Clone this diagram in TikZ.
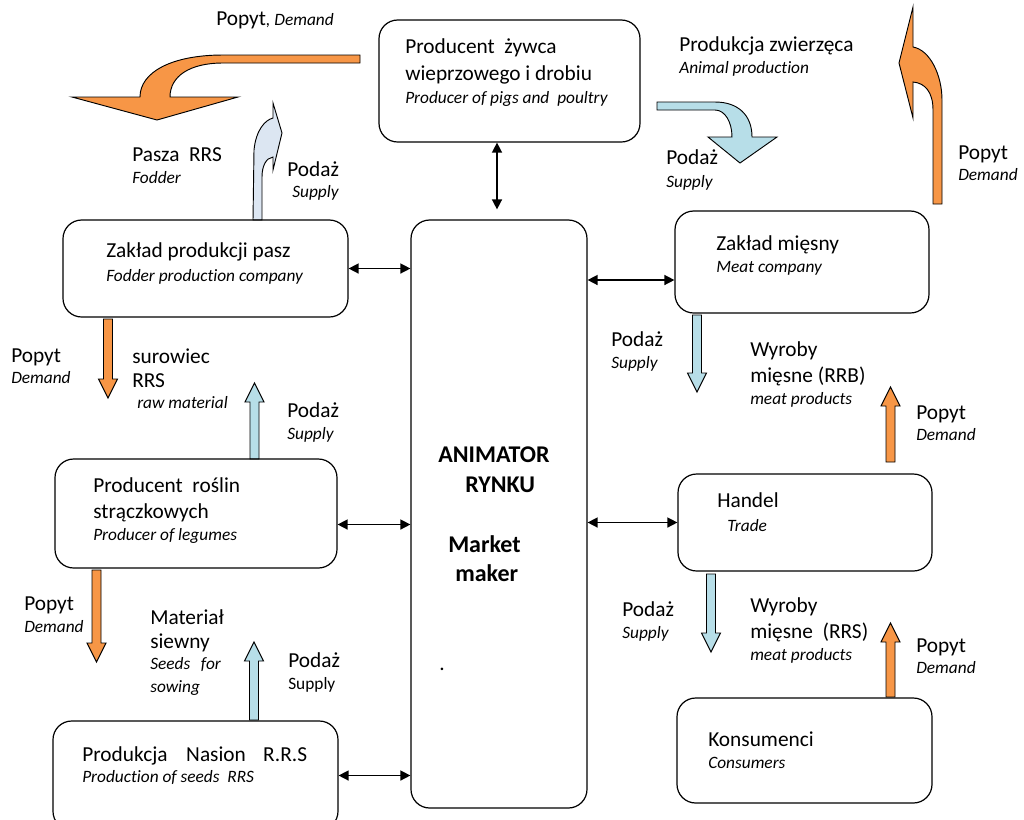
\documentclass[tikz,border=0pt]{standalone}
\usepackage{fontspec}
\setmainfont{Carlito}[Ligatures=NoCommon]
\usetikzlibrary{arrows.meta,fit,calc}
\definecolor{org}{HTML}{F79646}
\definecolor{lblue}{HTML}{B7DEE8}
\definecolor{pale}{HTML}{DCE6F2}
\newcommand\myVArrow[4]{% x, ytail, ytip, colour
  \pgfmathsetmacro\hdir{(#3>#2)?-1:1}
  \draw[blk,fill=#4] (#1-4.5,#2) -- (#1-4.5,#3+\hdir*19) -- (#1-9.5,#3+\hdir*19) -- (#1,#3)
    -- (#1+9.5,#3+\hdir*19) -- (#1+4.5,#3+\hdir*19) -- (#1+4.5,#2) -- cycle;}
\begin{document}
\begin{tikzpicture}[x=0.75pt,y=-0.75pt,
  box/.style={draw,line width=0.9pt,rounded corners=14pt,inner sep=0pt},
  blk/.style={draw=black,line width=0.7pt,line join=miter},
  dbl/.style={{Triangle[length=7.5pt,width=7.5pt]}-{Triangle[length=7.5pt,width=7.5pt]},line width=1.1pt},
  rg/.style={anchor=base west,inner sep=0pt,font=\fontsize{16}{19}\selectfont},
  it/.style={anchor=base west,inner sep=0pt,font=\fontsize{13}{16}\selectfont\itshape},
  bfx/.style={anchor=base west,inner sep=0pt,font=\fontsize{18}{21}\selectfont\bfseries}]
\useasboundingbox (0,0) rectangle (1024,819);
\clip (0,0) rectangle (1024,819);
\fill[white] (0,0) rectangle (1024,819);

% curved block arrows
\draw[blk,fill=org] (360,55) -- (223,55) .. controls (172,55) and (140,72) .. (140,97) -- (72,97) -- (157,120) -- (238,97) -- (170,97) .. controls (170,76) and (190,63) .. (223,63) -- (360,63) -- cycle;
\draw[blk,fill=pale] (253,220) -- (254,150) .. controls (256,130) and (265,120) .. (273,118) -- (273,103) -- (282,133) -- (273,170) -- (273,157) .. controls (266,158) and (262,166) .. (262,177) -- (262,220) -- cycle;
\draw[blk,fill=org] (933,204) -- (933,110) .. controls (933,92) and (925,83) .. (913,82) -- (913,118) -- (899,63) -- (913,7) -- (913,47) .. controls (930,50) and (942,75) .. (942,100) -- (942,204) -- cycle;
\draw[blk,fill=lblue] (657,102) -- (715,102) .. controls (738,102) and (752,115) .. (752,137) -- (777,137) -- (740,163) -- (708,137) -- (732,137) .. controls (732,122) and (725,110) .. (715,110) -- (657,110) -- cycle;

% straight block arrows
\myVArrow{108}{319}{398}{org}
\myVArrow{254.5}{459}{383}{lblue}
\myVArrow{96.5}{570}{662}{org}
\myVArrow{254}{720}{642}{lblue}
\myVArrow{697}{315}{392}{lblue}
\myVArrow{890.5}{462}{387}{org}
\myVArrow{711}{574}{652}{lblue}
\myVArrow{890.5}{697}{623}{org}

% boxes
\node[box,fit={(379,20) (640,142)}] (top) {};
\node[box,fit={(63,220) (348,317)}] (pasz) {};
\node[box,fit={(411,220) (587,808)}] (anim) {};
\node[box,fit={(675,211) (929,313)}] (meat) {};
\node[box,fit={(55,459) (337,568)}] (legume) {};
\node[box,fit={(678,474) (932,571)}] (trade) {};
\node[box,fit={(53,721) (338,830)}] (seeds) {};
\node[box,fit={(677,698) (932,803)}] (cons) {};

% double arrows
\draw[dbl,shorten >=7.5pt] (top.south -| 497,0) -- (anim.north -| 497,0);
\draw[dbl] (pasz.east) -- (pasz.east -| anim.west);
\coordinate (m1) at ($(meat.west)+(0,18)$);
\draw[dbl] (m1) -- (m1 -| anim.east);
\coordinate (l1) at ($(legume.east)+(0,11)$);
\draw[dbl] (l1) -- (l1 -| anim.west);
\draw[dbl] (trade.west) -- (trade.west -| anim.east);
\draw[dbl] (seeds.east) -- (seeds.east -| anim.west);

% texts
\node[rg] (t1) at (216,25) {Popyt{\fontsize{13}{16}\selectfont\itshape, Demand}};
\node[rg] (t2) at (405,53) {Producent\ \ żywca};
\node[rg] (t3) at (405,80) {wieprzowego i drobiu};
\node[it] (t4) at (405,103) {Producer of pigs and\ \ poultry};
\node[rg] (t5) at (679,51) {Produkcja zwierzęca};
\node[it] (t6) at (679,73) {Animal production};
\node[rg] (t7) at (666,164) {Podaż};
\node[it] (t8) at (666,187) {Supply};
\node[rg] (t9) at (958,159) {Popyt};
\node[it] (t10) at (958,180) {Demand};
\node[rg] (t11) at (132,161) {Pasza\ \ RRS};
\node[it] (t12) at (132,183) {Fodder};
\node[rg] (t13) at (287,176) {Podaż};
\node[it] (t14) at (292,197) {Supply};
\node[rg] (t15) at (106,257) {Zakład produkcji pasz};
\node[it] (t16) at (106,281) {Fodder production company};
\node[rg] (t17) at (716,250) {Zakład mięsny};
\node[it] (t18) at (716,272) {Meat company};
\node[rg] (t19) at (11,362) {Popyt};
\node[it] (t20) at (11,383) {Demand};
\node[rg] (t21) at (132,363) {surowiec};
\node[rg] (t22) at (132,387) {RRS};
\node[it] (t23) at (137,408) {raw material};
\node[rg] (t24) at (287,417) {Podaż};
\node[it] (t25) at (287,439) {Supply};
\node[rg] (t26) at (611,346) {Podaż};
\node[it] (t27) at (611,368) {Supply};
\node[rg] (t28) at (750,356) {Wyroby};
\node[rg] (t29) at (750,382) {mięsne (RRB)};
\node[it] (t30) at (750,404) {meat products};
\node[rg] (t31) at (916,419) {Popyt};
\node[it] (t32) at (916,440) {Demand};
\node[rg] (t33) at (93,492) {Producent\ \ roślin};
\node[rg] (t34) at (93,518) {strączkowych};
\node[it] (t35) at (93,540) {Producer of legumes};
\node[bfx] (t36) at (438,462) {ANIMATOR};
\node[bfx] (t37) at (465,492) {RYNKU};
\node[bfx] (t38) at (448,552) {Market};
\node[bfx] (t39) at (455,581) {maker};
\node[rg] (t40) at (439,670) {.};
\node[rg] (t41) at (717,507) {Handel};
\node[it] (t42) at (727,531) {Trade};
\node[rg] (t43) at (24,610) {Popyt};
\node[it] (t44) at (24,632) {Demand};
\node[rg] (t45) at (150,624) {Materiał};
\node[rg] (t46) at (150,648) {siewny};
\node[it] (t47) at (150,669) {Seeds\hspace{8pt}for};
\node[it] (t48) at (150,692) {sowing};
\node[rg] (t49) at (288,667) {Podaż};
\node[anchor=base west,inner sep=0pt,font=\fontsize{13}{16}\selectfont] (t50) at (288,689) {Supply};
\node[rg] (t51) at (622,616) {Podaż};
\node[it] (t52) at (622,638) {Supply};
\node[rg] (t53) at (750,612) {Wyroby};
\node[rg] (t54) at (750,638) {mięsne\ \ (RRS)};
\node[it] (t55) at (750,660) {meat products};
\node[rg] (t56) at (916,652) {Popyt};
\node[it] (t57) at (916,673) {Demand};
\node[rg] (t58) at (708,746) {Konsumenci};
\node[it] (t59) at (708,768) {Consumers};
\node[rg] (t60) at (82,761) {Produkcja\hspace{14pt}Nasion\hspace{13pt}R.R.S};
\node[it] (t61) at (82,782) {Production of seeds\ \ RRS};
\end{tikzpicture}
\end{document}
